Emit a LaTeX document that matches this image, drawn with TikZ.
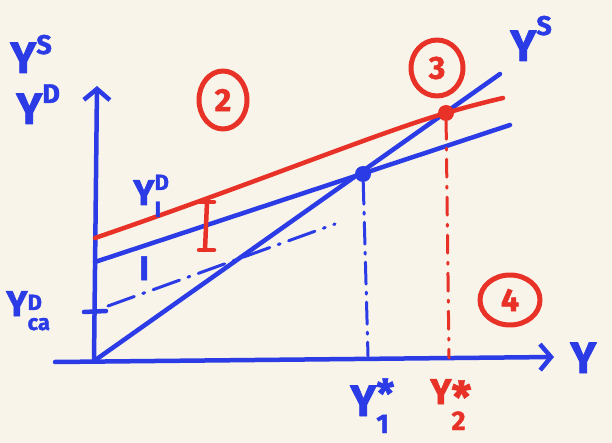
\documentclass[tikz,border=0pt]{standalone}
\usepackage{fontspec}
\setmainfont{Fira Sans}[BoldFeatures={FakeBold=1.5}]
\usetikzlibrary{arrows.meta,shapes.geometric}
\definecolor{bg}{HTML}{F8F4EA}
\definecolor{pblue}{HTML}{2B3BE6}
\definecolor{pred}{HTML}{E83228}
\newcommand{\bigY}{{\fontsize{44}{44}\selectfont Y}}
\newcommand{\midY}{{\fontsize{36}{36}\selectfont Y}}
\newcommand{\smt}[1]{{\fontsize{27}{27}\selectfont #1}}
\newcommand{\tnt}[1]{{\fontsize{22}{22}\selectfont #1}}
\newcommand{\supsub}[4]{\rlap{\raisebox{#2}{\smt{#1}}}\raisebox{#4}{\smt{#3}}}
\newcommand{\supsubt}[4]{\rlap{\raisebox{#2}{\tnt{#1}}}\raisebox{#4}{\tnt{#3}}}
\begin{document}
\begin{tikzpicture}[x=1pt,y=-1pt,line cap=round,line join=round,
  ax/.style={pblue,line width=4.5pt},
  bline/.style={pblue,line width=4.5pt},
  rline/.style={pred,line width=4.5pt},
  lblB/.style={pblue,font=\bfseries,inner sep=0pt,anchor=base west},
  lblR/.style={pred,font=\bfseries,inner sep=0pt,anchor=base west},
  circnum/.style={text=pred,inner sep=0pt,font=\bfseries\fontsize{32}{32}\selectfont},
  ring/.style={pred,line width=5pt},
  dotB/.style={circle,fill=pblue,inner sep=0pt,minimum size=16pt},
  dotR/.style={circle,fill=pred,inner sep=0pt,minimum size=16pt}]
\fill[bg] (0,0) rectangle (612,443);
\useasboundingbox (0,0) rectangle (612,443);
% coordinates
\coordinate (O) at (94,361);
\coordinate (yTop) at (97,86);
\coordinate (xL) at (55,362);
\coordinate (xR) at (554,357);
\coordinate (sEnd) at (500,74);
\coordinate (dStart) at (95,262);
\coordinate (dEnd) at (510,125);
\coordinate (rStart) at (95,238);
\coordinate (rEnd) at (503,98);
\coordinate (tickL) at (84,312);
\coordinate (tickR) at (106,311);
\coordinate (cStart) at (108,306);
\coordinate (cEnd) at (335,224);
\coordinate (e1foot) at (368,356);
\coordinate (e2foot) at (449,358);
\coordinate (rIt) at (207,202);
\coordinate (rIb) at (205,250);
% axes
\draw[ax,-{Straight Barb[length=11pt,width=26pt]}] (O) -- (yTop);
\draw[ax,-{Straight Barb[length=11pt,width=26pt]}] (xL) -- (xR);
% Y^S 45-degree line
\draw[bline] (O) -- (sEnd);
% Y^D line
\draw[bline] (dStart) -- (dEnd);
% red new Y^D
\node[dotB] (E1) at (363,174) {};
\node[dotR] (E2) at (446,113) {};
\draw[rline] (rStart) .. controls (250,185) and (380,132) .. (E2.center) .. controls (470,106) and (490,101) .. (rEnd);
% tick and consumption line
\draw[bline] (tickL) -- (tickR);
\draw[pblue,line width=3pt,dash pattern=on 28pt off 9pt on 2pt off 9pt] (cStart) -- (cEnd);
% drop lines
\draw[pblue,line width=3pt,dash pattern=on 22pt off 8pt on 2pt off 8pt] (E1) -- (e1foot);
\draw[pred,line width=3pt,dash pattern=on 18pt off 9pt on 2pt off 9pt] (E2) -- (e2foot);
% red I bracket
\draw[rline] (rIt) -- (rIb);
\draw[pred,line width=4.5pt] ([xshift=-7pt]rIt) -- ([xshift=7pt]rIt);
\draw[pred,line width=4.5pt] ([xshift=-6pt]rIb) -- ([xshift=9pt]rIb);
% labels
\node[lblB] (lYS) at (10,73) {\bigY\raisebox{19pt}{\smt{S}}};
\node[lblB] (lYD) at (16,124) {\bigY\raisebox{21pt}{\smt{D}}};
\node[lblB] (lYDI) at (133,205) {\midY\supsubt{D}{15pt}{I}{-12pt}};
\node[lblB] (lI) at (139,280) {\fontsize{34}{34}\selectfont I};
\node[lblB] (lYDca) at (6,316) {\midY\supsubt{D}{6pt}{ca}{-14pt}};
\node[lblB] (lYSr) at (510,61) {\bigY\raisebox{26pt}{\smt{S}}};
\node[lblB] (lY) at (570,373) {\bigY};
\node[lblB] (lY1) at (350,416) {\bigY\supsub{\fontsize{40}{40}\selectfont *}{8pt}{1}{-17pt}};
\node[lblR] (lY2) at (430,404) {\midY\supsub{\fontsize{44}{44}\selectfont *}{-9pt}{2}{-26pt}};
% circled numbers
\node[circnum] (c2) at (223,100) {2};
\node[circnum] (c3) at (437,68) {3};
\node[circnum] (c4) at (510,300) {4};
\draw[ring] (c2) ellipse[x radius=24pt,y radius=29pt];
\draw[ring] (c3) ellipse[x radius=26pt,y radius=28pt];
\draw[ring] (c4) ellipse[x radius=30pt,y radius=25pt];
\end{tikzpicture}
\end{document}
